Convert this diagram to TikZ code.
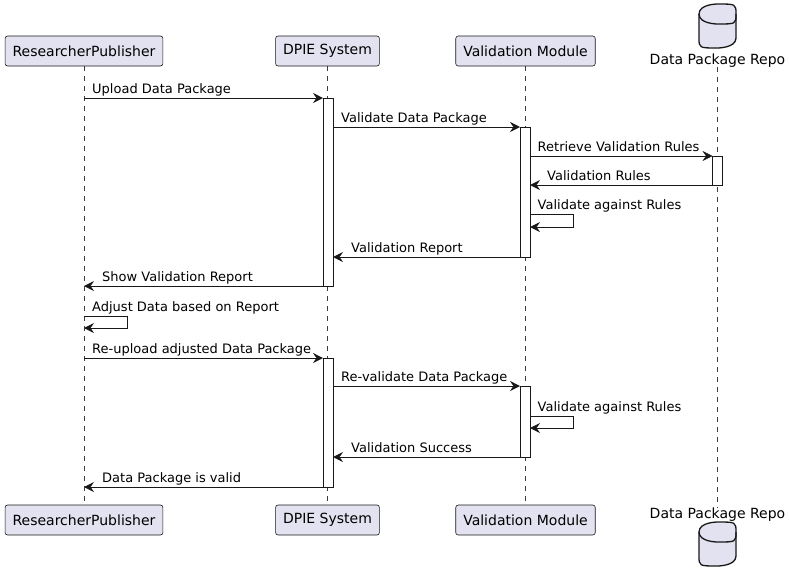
\documentclass[tikz,border=0pt]{standalone}
\usepackage{fontspec}
\setmainfont{DejaVu Sans}
\usetikzlibrary{arrows.meta}
\definecolor{pfill}{HTML}{E2E2F0}
\definecolor{ink}{HTML}{181818}
\begin{document}
\begin{tikzpicture}[x=1pt,y=-1pt,
 part/.style={draw=ink, fill=pfill, line width=0.6pt, rounded corners=2.5pt, minimum height=30pt, inner xsep=7.5pt, inner ysep=0pt, font=\fontsize{14pt}{16pt}\selectfont, text=black},
 dblbl/.style={inner sep=0pt, font=\fontsize{14pt}{16pt}\selectfont, text=black},
 lifeline/.style={draw=ink!85, line width=0.6pt, dash pattern=on 5pt off 5pt},
 actbar/.style={draw=ink, fill=white, line width=0.8pt, minimum width=10pt, inner sep=0pt},
 msg/.style={draw=ink, line width=1pt, -{Stealth[length=10pt,width=10pt,inset=3.5pt,line width=0.5pt]}},
 lbl/.style={anchor=base west, inner sep=0pt, font=\fontsize{13pt}{15pt}\selectfont, text=black},
 db/.style={draw=ink, fill=pfill, line width=1.3pt}
]
\useasboundingbox (0,0) rectangle (789,582);

% participants
\node[part] (rpT) at (84,51) {ResearcherPublisher};
\node[part] (dpT) at (327.5,51) {DPIE System};
\node[part] (vmT) at (525.5,51) {Validation Module};
\node[dblbl, anchor=base] (dbT) at (717.5,64) {Data Package Repo};
\node[part] (rpB) at (84,520) {ResearcherPublisher};
\node[part] (dpB) at (327.5,520) {DPIE System};
\node[part] (vmB) at (525.5,520) {Validation Module};
\node[dblbl, anchor=base] (dbB) at (717.5,518) {Data Package Repo};

% lifelines
\draw[lifeline] (rpT.south) -- (rpB.north);
\draw[lifeline] (dpT.south) -- (dpB.north);
\draw[lifeline] (vmT.south) -- (vmB.north);
\draw[lifeline] (dbT.south) -- (dbB.north);

% database icons
\foreach \y in {4,522}{
 \draw[db] (699,\y+10) .. controls (699,\y) and (717.5,\y) .. (717.5,\y)
   .. controls (736,\y) and (736,\y) .. (736,\y+10)
   -- (736,\y+34) .. controls (736,\y+44) and (717.5,\y+44) .. (717.5,\y+44)
   .. controls (699,\y+44) and (699,\y+44) .. (699,\y+34) -- cycle;
 \draw[draw=ink, line width=1.3pt] (699,\y+10) .. controls (699,\y+20) and (717.5,\y+20) .. (717.5,\y+20)
   .. controls (736,\y+20) and (736,\y+20) .. (736,\y+10);
}

% activation bars
\node[actbar, minimum height=188pt] (dA) at (328,192) {};
\node[actbar, minimum height=130pt] (vA) at (525,192) {};
\node[actbar, minimum height=29pt] (rA) at (717.5,170.5) {};
\node[actbar, minimum height=129pt] (dB) at (328,422.5) {};
\node[actbar, minimum height=71pt] (vB) at (525,421.5) {};

% message end points
\coordinate (m1a) at (84,98);    \coordinate (m1b) at (323,98);
\coordinate (m2a) at (333,127);  \coordinate (m2b) at (520,127);
\coordinate (m3a) at (530,156);  \coordinate (m3b) at (712.5,156);
\coordinate (m4a) at (712.5,185);\coordinate (m4b) at (530,185);
\coordinate (s1a) at (530,214);  \coordinate (s1b) at (530,227);
\coordinate (m6a) at (520,257);  \coordinate (m6b) at (333,257);
\coordinate (m7a) at (323,286);  \coordinate (m7b) at (84,286);
\coordinate (s2a) at (84,316);   \coordinate (s2b) at (84,328);
\coordinate (m9a) at (84,358);   \coordinate (m9b) at (323,358);
\coordinate (m10a) at (333,386); \coordinate (m10b) at (520,386);
\coordinate (s3a) at (530,416);  \coordinate (s3b) at (530,428);
\coordinate (m12a) at (520,457); \coordinate (m12b) at (333,457);
\coordinate (m13a) at (323,487); \coordinate (m13b) at (84,487);

% messages
\draw[msg] (m1a) -- (m1b);
\node[lbl] at (92,93) {Upload Data Package};
\draw[msg] (m2a) -- (m2b);
\node[lbl] at (341,122) {Validate Data Package};
\draw[msg] (m3a) -- (m3b);
\node[lbl] at (537.5,151) {Retrieve Validation Rules};
\draw[msg] (m4a) -- (m4b);
\node[lbl] at (547,180) {Validation Rules};
\draw[msg] (s1a) -- ++(43,0) |- (s1b);
\node[lbl] at (537.5,209) {Validate against Rules};
\draw[msg] (m6a) -- (m6b);
\node[lbl] at (351,252) {Validation Report};
\draw[msg] (m7a) -- (m7b);
\node[lbl] at (102,281) {Show Validation Report};
\draw[msg] (s2a) -- ++(43,0) |- (s2b);
\node[lbl] at (92,311) {Adjust Data based on Report};
\draw[msg] (m9a) -- (m9b);
\node[lbl] at (92,353) {Re-upload adjusted Data Package};
\draw[msg] (m10a) -- (m10b);
\node[lbl] at (341,381) {Re-validate Data Package};
\draw[msg] (s3a) -- ++(43,0) |- (s3b);
\node[lbl] at (537.5,411) {Validate against Rules};
\draw[msg] (m12a) -- (m12b);
\node[lbl] at (351,452) {Validation Success};
\draw[msg] (m13a) -- (m13b);
\node[lbl] at (102,482) {Data Package is valid};
\end{tikzpicture}
\end{document}
